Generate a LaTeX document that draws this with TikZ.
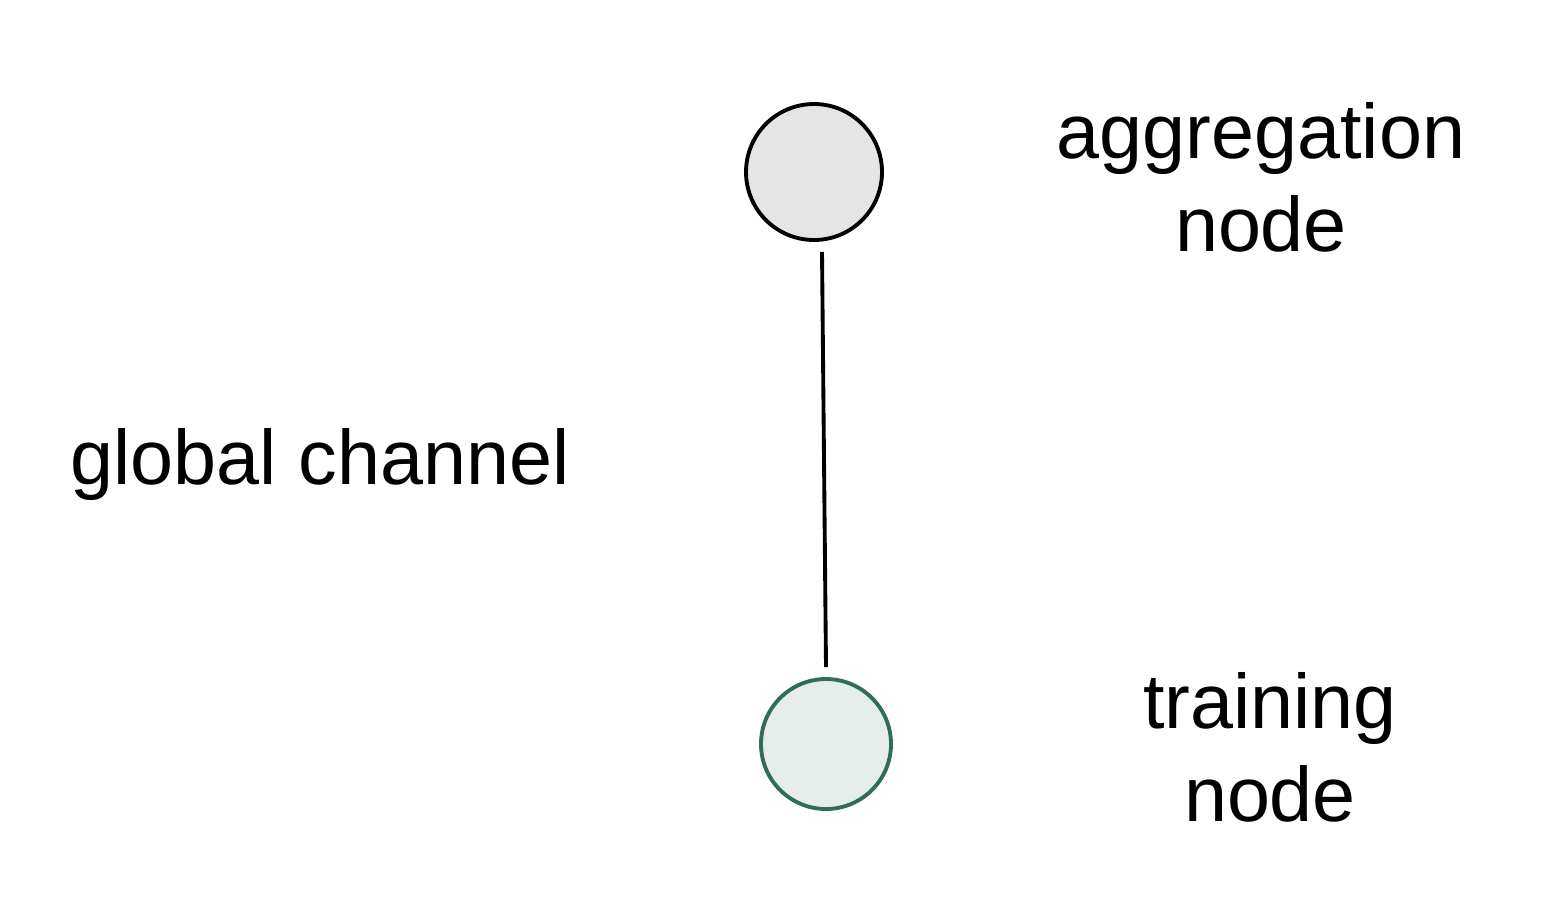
\documentclass[tikz,border=0pt]{standalone}
\usepackage{fontspec}
\setmainfont{Liberation Sans}
\usetikzlibrary{positioning}
\definecolor{agggray}{RGB}{229,229,229}
\definecolor{trainfill}{RGB}{230,238,236}
\definecolor{traingreen}{RGB}{46,110,87}

\begin{document}
\begin{tikzpicture}[
    every node/.style={font=\fontsize{22}{26.2}\selectfont},
    aggnode/.style={circle, draw=black, fill=agggray, line width=1.1pt, minimum size=1.36cm, inner sep=0pt},
    trainnode/.style={circle, draw=traingreen, fill=trainfill, line width=1.1pt, minimum size=1.30cm, inner sep=0pt},
    label/.style={align=center, inner sep=0pt},
    link/.style={line width=1.1pt, color=black}
]
\useasboundingbox (0,0) rectangle (15.68,9.02);

% Nodes
\node[aggnode] (agg) at (8.14,7.30) {};
\node[trainnode] (train) at (8.26,1.58) {};

% Labels
\node[label, anchor=base] (agglabel) at (12.61,6.51) {aggregation\\node};
\node[label, anchor=base] (trainlabel) at (12.70,0.81) {training\\node};
\node[label, anchor=base west] (channel) at (0.70,4.18) {global channel};

% Channel
\draw[link] ([xshift=0.08cm,yshift=-0.1cm]agg.south) -- ([yshift=0.1cm]train.north);

\end{tikzpicture}
\end{document}
